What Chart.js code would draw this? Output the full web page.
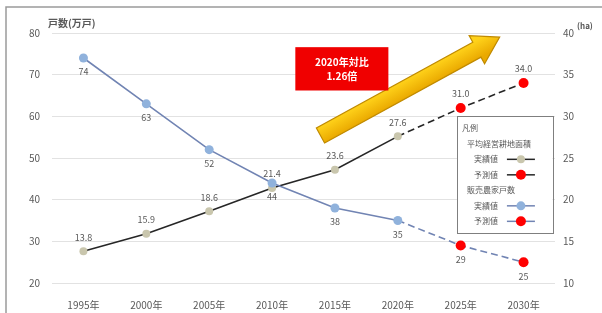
<!DOCTYPE html>
<html><head><meta charset="utf-8">
<script src="https://cdn.jsdelivr.net/npm/chart.js@4.4.1/dist/chart.umd.min.js"></script>
<style>html,body{margin:0;padding:0;background:#fff;}#wrap{width:602px;height:313px;position:relative;}</style>
</head><body><div id="wrap"><canvas id="c" width="602" height="313"></canvas></div>
<script>
const years = ['1995年','2000年','2005年','2010年','2015年','2020年','2025年','2030年'];
const areaActual = [13.8, 15.9, 18.6, 21.4, 23.6, 27.6, null, null];
const areaForecast = [null, null, null, null, null, 27.6, 31.0, 34.0];
const householdsActual = [74, 63, 52, 44, 38, 35, null, null];
const householdsForecast = [null, null, null, null, null, 35, 29, 25];
const leftTicks = [20, 30, 40, 50, 60, 70, 80];
const rightTicks = [10, 15, 20, 25, 30, 35, 40];
const leftTitle = '戸数(万戸)';
const rightTitle = '(ha)';
const boxText = ['2020年対比', '1.26倍'];
const legendTitle = '凡例';
const legendGroups = [
  {title: '平均経営耕地面積', items: [{label: '実績値', ds: 0}, {label: '予測値', ds: 1}]},
  {title: '販売農家戸数', items: [{label: '実績値', ds: 2}, {label: '予測値', ds: 3}]}
];

// annotation anchors in data coordinates (x: category index, y: right axis)
const arrowAnchor = {x0: 3.77, y0: 27.7, x1: 6.62, y1: 39.5};
const boxAnchor = {x0: 3.37, x1: 4.85, y0: 38.3, y1: 33.1};
const legendAnchor = {x0: 5.94, x1: 7.46, y0: 30.0, y1: 16.0};

const FONT = '"Noto Sans CJK JP", "Noto Sans", sans-serif';
const GREY = '#595959';

const framePlugin = {
  id: 'frame',
  beforeDraw(chart) {
    const ctx = chart.ctx;
    ctx.save();
    ctx.fillStyle = '#fff';
    ctx.fillRect(0, 0, chart.width, chart.height);
    ctx.strokeStyle = '#9a9a9a';
    ctx.lineWidth = 1.5;
    ctx.beginPath();
    ctx.moveTo(6, chart.height);
    ctx.lineTo(6, 7);
    ctx.lineTo(chart.width, 7);
    ctx.stroke();
    ctx.restore();
  }
};

const labelPlugin = {
  id: 'labels',
  afterDatasetsDraw(chart) {
    const ctx = chart.ctx;
    ctx.save();
    ctx.font = '9px ' + FONT;
    ctx.fillStyle = GREY;
    ctx.textAlign = 'center';
    ctx.textBaseline = 'middle';
    chart.data.datasets.forEach((ds, di) => {
      const meta = chart.getDatasetMeta(di);
      ds.data.forEach((v, i) => {
        if (v === null) return;
        if (ds.isForecast && ds.actual[i] !== null) return;
        const p = meta.data[i];
        const txt = ds.isArea ? v.toFixed(1) : String(v);
        const dy = ds.isArea ? -14 : 14;
        ctx.fillText(txt, p.x, p.y + dy);
      });
    });
    ctx.textAlign = 'left';
    ctx.font = 'bold 10px ' + FONT;
    ctx.fillText(leftTitle, 48, 23);
    ctx.font = 'bold 8px ' + FONT;
    ctx.fillText(rightTitle, 577, 26);
    ctx.restore();
  }
};

function drawMarker(ctx, x, y, ds) {
  ctx.beginPath();
  ctx.arc(x, y, ds.markerR, 0, Math.PI * 2);
  ctx.fillStyle = ds.pointBackgroundColor;
  ctx.fill();
}

const annoPlugin = {
  id: 'anno',
  afterDraw(chart) {
    const ctx = chart.ctx;
    const xs = chart.scales.x, ys = chart.scales.y2;
    ctx.save();
    const p0 = {x: xs.getPixelForValue(arrowAnchor.x0), y: ys.getPixelForValue(arrowAnchor.y0)};
    const p1 = {x: xs.getPixelForValue(arrowAnchor.x1), y: ys.getPixelForValue(arrowAnchor.y1)};
    const dx = p1.x - p0.x, dy = p1.y - p0.y, L = Math.hypot(dx, dy);
    const ux = dx / L, uy = dy / L, nx = -uy, ny = ux;
    const w = 8.5, hw = 16, hl = 26;
    const bx = p1.x - ux * hl, by = p1.y - uy * hl;
    ctx.beginPath();
    ctx.moveTo(p0.x + nx * w, p0.y + ny * w);
    ctx.lineTo(bx + nx * w, by + ny * w);
    ctx.lineTo(bx + nx * hw, by + ny * hw);
    ctx.lineTo(p1.x, p1.y);
    ctx.lineTo(bx - nx * hw, by - ny * hw);
    ctx.lineTo(bx - nx * w, by - ny * w);
    ctx.lineTo(p0.x - nx * w, p0.y - ny * w);
    ctx.closePath();
    const g = ctx.createLinearGradient(p0.x - nx * w, p0.y - ny * w, p0.x + nx * w, p0.y + ny * w);
    g.addColorStop(0, '#ffd21a');
    g.addColorStop(1, '#eaa900');
    ctx.fillStyle = g;
    ctx.fill();
    ctx.strokeStyle = '#c08a00';
    ctx.lineWidth = 1.2;
    ctx.stroke();

    const bx0 = xs.getPixelForValue(boxAnchor.x0), bx1 = xs.getPixelForValue(boxAnchor.x1);
    const by0 = ys.getPixelForValue(boxAnchor.y0), by1 = ys.getPixelForValue(boxAnchor.y1);
    ctx.fillStyle = '#f00000';
    ctx.fillRect(bx0, by0, bx1 - bx0, by1 - by0);
    ctx.fillStyle = '#fff';
    ctx.font = 'bold 10px ' + FONT;
    ctx.textAlign = 'center';
    ctx.textBaseline = 'middle';
    const cx = (bx0 + bx1) / 2, cy = (by0 + by1) / 2;
    ctx.fillText(boxText[0], cx, cy - 7);
    ctx.fillText(boxText[1], cx, cy + 7);

    const lx0 = xs.getPixelForValue(legendAnchor.x0), lx1 = xs.getPixelForValue(legendAnchor.x1);
    const ly0 = ys.getPixelForValue(legendAnchor.y0), ly1 = ys.getPixelForValue(legendAnchor.y1);
    ctx.fillStyle = '#fff';
    ctx.fillRect(lx0, ly0, lx1 - lx0, ly1 - ly0);
    ctx.strokeStyle = '#7f7f7f';
    ctx.lineWidth = 1;
    ctx.strokeRect(Math.round(lx0) + 0.5, Math.round(ly0) + 0.5, Math.round(lx1 - lx0), Math.round(ly1 - ly0));
    ctx.font = '8px ' + FONT;
    ctx.fillStyle = GREY;
    ctx.textAlign = 'left';
    let row = ly0 + 12;
    ctx.fillText(legendTitle, lx0 + 5, row);
    legendGroups.forEach(gp => {
      row += 15.5;
      ctx.fillStyle = GREY;
      ctx.fillText(gp.title, lx0 + 10, row);
      gp.items.forEach(it => {
        row += 15.5;
        ctx.fillStyle = GREY;
        ctx.fillText(it.label, lx0 + 17, row);
        const ds = chart.data.datasets[it.ds];
        const sx0 = lx0 + 50, sx1 = lx0 + 78;
        ctx.beginPath();
        ctx.moveTo(sx0, row);
        ctx.lineTo(sx1, row);
        ctx.strokeStyle = ds.borderColor;
        ctx.lineWidth = 1.5;
        ctx.stroke();
        drawMarker(ctx, (sx0 + sx1) / 2, row, ds);
      });
    });
    ctx.restore();
  }
};

const radiusFor = ctx => {
  const ds = ctx.dataset;
  if (ds.isForecast && ds.actual[ctx.dataIndex] !== null) return 0;
  return ds.markerR;
};

new Chart(document.getElementById('c'), {
  type: 'line',
  data: {
    labels: years,
    datasets: [
      {label: '平均経営耕地面積 実績値', data: areaActual, yAxisID: 'y2', isArea: true, markerR: 4,
       borderColor: '#262626', borderWidth: 1.6, pointBackgroundColor: '#c9c6ad', pointBorderWidth: 0,
       pointBorderColor: 'rgba(0,0,0,0)', pointRadius: radiusFor, order: 2},
      {label: '平均経営耕地面積 予測値', data: areaForecast, yAxisID: 'y2', isArea: true, isForecast: true, actual: areaActual, markerR: 5,
       borderColor: '#262626', borderWidth: 1.6, borderDash: [7, 4], pointBackgroundColor: '#ff0000', pointBorderWidth: 0,
       pointBorderColor: 'rgba(0,0,0,0)', pointRadius: radiusFor, order: 2},
      {label: '販売農家戸数 実績値', data: householdsActual, yAxisID: 'y', isArea: false, markerR: 4.5,
       borderColor: '#7184b3', borderWidth: 1.6, pointBackgroundColor: '#90b2dc', pointBorderWidth: 0,
       pointBorderColor: 'rgba(0,0,0,0)', pointRadius: radiusFor, order: 1},
      {label: '販売農家戸数 予測値', data: householdsForecast, yAxisID: 'y', isArea: false, isForecast: true, actual: householdsActual, markerR: 5,
       borderColor: '#7184b3', borderWidth: 1.6, borderDash: [7, 4], pointBackgroundColor: '#ff0000', pointBorderWidth: 0,
       pointBorderColor: 'rgba(0,0,0,0)', pointRadius: radiusFor, order: 1}
    ]
  },
  options: {
    responsive: false,
    animation: false,
    events: [],
    layout: {padding: {top: 33, left: 0, right: 0, bottom: 0}},
    datasets: {line: {tension: 0, spanGaps: false}},
    plugins: {legend: {display: false}, tooltip: {enabled: false}},
    scales: {
      x: {
        offset: true,
        grid: {display: false},
        border: {display: false},
        ticks: {color: GREY, font: {size: 10, family: FONT}, padding: 8, maxRotation: 0},
        afterFit(s) { s.height = 30; }
      },
      y: {
        position: 'left', min: 20, max: 80,
        afterBuildTicks(s) { s.ticks = leftTicks.map(v => ({value: v})); },
        grid: {color: '#e2e2e2', drawTicks: false, lineWidth: 1},
        border: {display: false},
        ticks: {color: GREY, font: {size: 10, family: FONT}, padding: 12},
        afterFit(s) { s.width = 52; }
      },
      y2: {
        position: 'right', min: 10, max: 40,
        afterBuildTicks(s) { s.ticks = rightTicks.map(v => ({value: v})); },
        grid: {display: false, drawTicks: false},
        border: {display: false},
        ticks: {color: GREY, font: {size: 10, family: FONT}, padding: 8},
        afterFit(s) { s.width = 47; }
      }
    }
  },
  plugins: [framePlugin, labelPlugin, annoPlugin]
});
</script>
</body></html>
